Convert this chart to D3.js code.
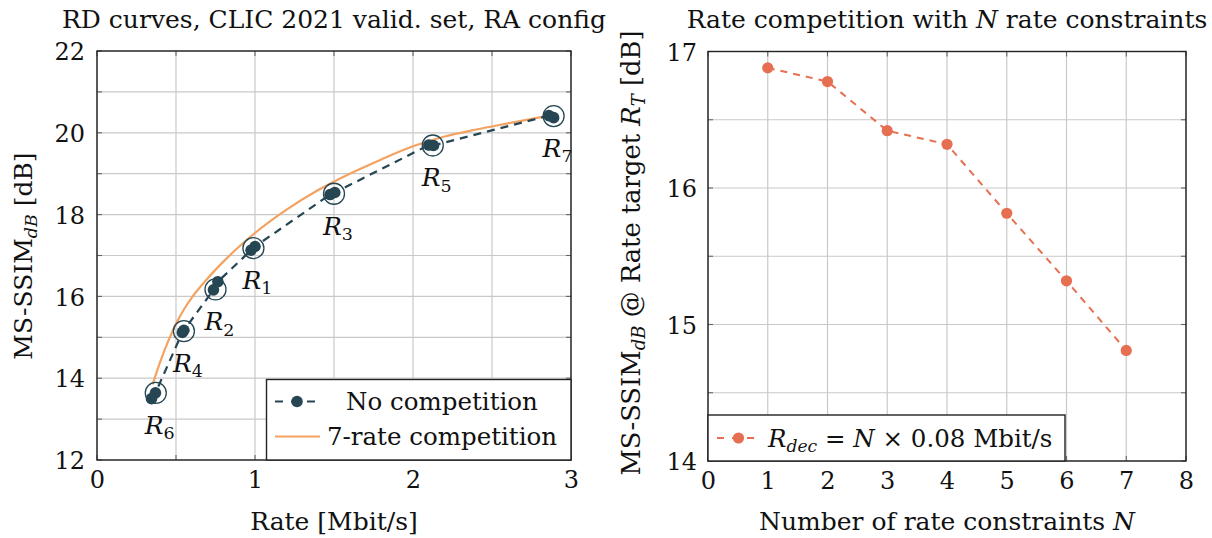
<!DOCTYPE html>
<html>
<head>
<meta charset="utf-8">
<script src="https://cdn.jsdelivr.net/npm/d3@7"></script>
<style>
  html, body { margin: 0; padding: 0; background: #fff; }
  svg { display: block; }
  text { font-family: "DejaVu Serif", "Liberation Serif", serif; fill: #111; }
</style>
</head>
<body>
<svg id="chart" width="1212" height="538"></svg>
<script>
// ---------------- DATA ----------------
// Left panel: RD curves
const noCompRate = [0.345, 0.37, 0.54, 0.55, 0.737, 0.765, 0.975, 1.0, 1.475, 1.505, 2.10, 2.13, 2.86, 2.89];
const noCompSSIM = [13.50, 13.64, 15.12, 15.17, 16.16, 16.36, 17.13, 17.22, 18.49, 18.54, 19.70, 19.69, 20.42, 20.37];

const compRate = [0.352, 0.40, 0.45, 0.50, 0.55, 0.60, 0.70, 0.80, 0.90, 1.00, 1.20, 1.40, 1.60, 1.80, 2.00, 2.20, 2.40, 2.60, 2.846];
const compSSIM = [13.85, 14.40, 14.90, 15.33, 15.68, 15.97, 16.44, 16.85, 17.22, 17.55, 18.12, 18.60, 19.00, 19.35, 19.67, 19.91, 20.08, 20.23, 20.41];

const targetNames = ["1", "2", "3", "4", "5", "6", "7"];
const targetRate = [0.99, 0.75, 1.50, 0.55, 2.125, 0.372, 2.89];
const targetSSIM = [17.18, 16.17, 18.51, 15.15, 19.69, 13.64, 20.41];

const leftXTicks = [0, 1, 2, 3];
const leftYTicks = [12, 14, 16, 18, 20, 22];

// Right panel: rate competition with N constraints
const nConstraints = [1, 2, 3, 4, 5, 6, 7];
const ssimAtTarget = [16.88, 16.78, 16.42, 16.32, 15.815, 15.32, 14.81];

const rightXTicks = [0, 1, 2, 3, 4, 5, 6, 7, 8];
const rightYTicks = [14, 15, 16, 17];

// ---------------- STYLE ----------------
const DARK = "#264653";
const ORANGE = "#f4a261";
const CORAL = "#e76f51";
const GRID = "#c9c9c9";
const TICK = "#666";
const FRAME = "#222";
const FS = 24;     // tick labels
const FL = 25;     // axis labels / titles
const FG = 24.5;   // legend

const svg = d3.select("#chart");

function frame(g, x, y, xGrid, yGrid) {
  const [x0, x1] = x.range();
  const [y0, y1] = y.range();
  g.append("g").selectAll("line").data(xGrid).join("line")
    .attr("x1", d => x(d)).attr("x2", d => x(d)).attr("y1", y0).attr("y2", y1)
    .attr("stroke", GRID).attr("stroke-width", 1.2);
  g.append("g").selectAll("line").data(yGrid).join("line")
    .attr("x1", x0).attr("x2", x1).attr("y1", d => y(d)).attr("y2", d => y(d))
    .attr("stroke", GRID).attr("stroke-width", 1.2);
  const tl = 5;
  const tk = g.append("g").attr("stroke", TICK).attr("stroke-width", 1.1);
  xGrid.forEach(d => {
    tk.append("line").attr("x1", x(d)).attr("x2", x(d)).attr("y1", y0).attr("y2", y0 - tl);
    tk.append("line").attr("x1", x(d)).attr("x2", x(d)).attr("y1", y1).attr("y2", y1 + tl);
  });
  yGrid.forEach(d => {
    tk.append("line").attr("x1", x0).attr("x2", x0 + tl).attr("y1", y(d)).attr("y2", y(d));
    tk.append("line").attr("x1", x1).attr("x2", x1 - tl).attr("y1", y(d)).attr("y2", y(d));
  });
}

function border(g, x, y) {
  const [x0, x1] = x.range();
  const [y0, y1] = y.range();
  g.append("rect").attr("x", x0).attr("y", y1).attr("width", x1 - x0).attr("height", y0 - y1)
    .attr("fill", "none").attr("stroke", FRAME).attr("stroke-width", 1.4);
}

function tickLabels(g, x, y, xt, yt, ypad) {
  const xa = g.append("g").attr("transform", `translate(0,${y.range()[0]})`)
    .call(d3.axisBottom(x).tickValues(xt).tickSize(0).tickPadding(10).tickFormat(d3.format("d")));
  const ya = g.append("g").attr("transform", `translate(${x.range()[0]},0)`)
    .call(d3.axisLeft(y).tickValues(yt).tickSize(0).tickPadding(ypad).tickFormat(d3.format("d")));
  [xa, ya].forEach(a => {
    a.select(".domain").remove();
    a.selectAll("text").attr("font-family", "DejaVu Serif").attr("font-size", FS).attr("fill", "#111");
  });
  xa.selectAll("text").attr("dy", "0.75em");
  ya.selectAll("text").attr("dy", "0.36em");
}

function addSub(t, base, sub, opts = {}) {
  const a = t.append("tspan").text(base);
  if (opts.baseItalic) a.attr("font-style", "italic");
  const s = t.append("tspan").text(sub).attr("font-size", "0.7em").attr("dy", "0.3em");
  if (opts.subItalic) s.attr("font-style", "italic");
  return s;
}

// ================= LEFT PANEL =================
const xL = d3.scaleLinear().domain([0, 3]).range([97, 571]);
const yL = d3.scaleLinear().domain([12, 22]).range([460, 51]);
const gL = svg.append("g");
frame(gL, xL, yL, d3.range(0, 3.01, 0.5), d3.range(12, 22.01, 1));

// orange 7-rate competition curve
const compPts = compRate.map((r, i) => [r, compSSIM[i]]);
gL.append("path").datum(compPts)
  .attr("d", d3.line().x(d => xL(d[0])).y(d => yL(d[1])).curve(d3.curveMonotoneX))
  .attr("fill", "none").attr("stroke", ORANGE).attr("stroke-width", 2.2);

// dark no-competition dashed line + markers
const noPts = noCompRate.map((r, i) => [r, noCompSSIM[i]]);
gL.append("path").datum(noPts)
  .attr("d", d3.line().x(d => xL(d[0])).y(d => yL(d[1])))
  .attr("fill", "none").attr("stroke", DARK).attr("stroke-width", 2.2).attr("stroke-dasharray", "8,6");
gL.append("g").selectAll("circle").data(noPts).join("circle")
  .attr("cx", d => xL(d[0])).attr("cy", d => yL(d[1])).attr("r", 5.8).attr("fill", DARK);

// target circles + labels
const tg = targetRate.map((r, i) => ({ r, s: targetSSIM[i], n: targetNames[i] }));
gL.append("g").selectAll("circle").data(tg).join("circle")
  .attr("cx", d => xL(d.r)).attr("cy", d => yL(d.s)).attr("r", 10.5)
  .attr("fill", "none").attr("stroke", DARK).attr("stroke-width", 1.3);
tg.forEach(d => {
  const t = gL.append("text").attr("x", xL(d.r) - 11).attr("y", yL(d.s) + 41).attr("font-size", 25);
  addSub(t, "R", d.n, { baseItalic: true });
});

border(gL, xL, yL);
tickLabels(gL, xL, yL, leftXTicks, leftYTicks, 12);

// legend (left)
const lgL = gL.append("g");
lgL.append("rect").attr("x", 266.5).attr("y", 379.5).attr("width", 571 - 266.5).attr("height", 460 - 379.5)
  .attr("fill", "#fff").attr("stroke", FRAME).attr("stroke-width", 1.4);
lgL.append("line").attr("x1", 275).attr("x2", 318).attr("y1", 401.5).attr("y2", 401.5)
  .attr("stroke", DARK).attr("stroke-width", 2.2).attr("stroke-dasharray", "8,8");
lgL.append("circle").attr("cx", 297).attr("cy", 401.5).attr("r", 5.8).attr("fill", DARK);
lgL.append("text").attr("x", 442).attr("y", 401.5).attr("dy", "0.35em").attr("text-anchor", "middle")
  .attr("font-size", FG).text("No competition");
lgL.append("line").attr("x1", 275).attr("x2", 320).attr("y1", 436.5).attr("y2", 436.5)
  .attr("stroke", ORANGE).attr("stroke-width", 2.2);
lgL.append("text").attr("x", 442).attr("y", 436.5).attr("dy", "0.35em").attr("text-anchor", "middle")
  .attr("font-size", FG).text("7-rate competition");

// titles and axis labels (left)
svg.append("text").attr("x", 334).attr("y", 28).attr("text-anchor", "middle").attr("font-size", FL)
  .text("RD curves, CLIC 2021 valid. set, RA config");
svg.append("text").attr("x", 334).attr("y", 530).attr("text-anchor", "middle").attr("font-size", FL)
  .text("Rate [Mbit/s]");
{
  const t = svg.append("text").attr("transform", "translate(32,256) rotate(-90)").attr("text-anchor", "middle")
    .attr("font-size", FL);
  t.append("tspan").text("MS-SSIM");
  t.append("tspan").text("dB").attr("font-style", "italic").attr("font-size", "0.7em").attr("dy", "0.3em");
  t.append("tspan").text(" [dB]").attr("dy", "-0.21em");
}

// ================= RIGHT PANEL =================
const xR = d3.scaleLinear().domain([0, 8]).range([708, 1186]);
const yR = d3.scaleLinear().domain([14, 17]).range([461, 51.5]);
const gR = svg.append("g");
frame(gR, xR, yR, d3.range(0, 8.01, 1), d3.range(14, 17.01, 0.5));

const rPts = nConstraints.map((n, i) => [n, ssimAtTarget[i]]);
gR.append("path").datum(rPts)
  .attr("d", d3.line().x(d => xR(d[0])).y(d => yR(d[1])))
  .attr("fill", "none").attr("stroke", CORAL).attr("stroke-width", 2).attr("stroke-dasharray", "7,6");
gR.append("g").selectAll("circle").data(rPts).join("circle")
  .attr("cx", d => xR(d[0])).attr("cy", d => yR(d[1])).attr("r", 5.6).attr("fill", CORAL);

border(gR, xR, yR);
tickLabels(gR, xR, yR, rightXTicks, rightYTicks, 11);

// legend (right)
const lgR = gR.append("g");
lgR.append("rect").attr("x", 708).attr("y", 415).attr("width", 1065 - 708).attr("height", 461 - 415)
  .attr("fill", "#fff").attr("stroke", FRAME).attr("stroke-width", 1.4);
lgR.append("line").attr("x1", 717).attr("x2", 758).attr("y1", 438).attr("y2", 438)
  .attr("stroke", CORAL).attr("stroke-width", 2).attr("stroke-dasharray", "7,8");
lgR.append("circle").attr("cx", 738.5).attr("cy", 438).attr("r", 5.6).attr("fill", CORAL);
{
  const t = lgR.append("text").attr("x", 768).attr("y", 438).attr("dy", "0.35em").attr("font-size", FG);
  t.append("tspan").text("R").attr("font-style", "italic");
  t.append("tspan").text("dec").attr("font-style", "italic").attr("font-size", "0.7em").attr("dy", "0.3em");
  t.append("tspan").text(" = ").attr("dy", "-0.21em");
  t.append("tspan").text("N").attr("font-style", "italic");
  t.append("tspan").text(" × 0.08 Mbit/s");
}

// titles and axis labels (right)
{
  const t = svg.append("text").attr("x", 947).attr("y", 28).attr("text-anchor", "middle").attr("font-size", FL);
  t.append("tspan").text("Rate competition with ");
  t.append("tspan").text("N").attr("font-style", "italic");
  t.append("tspan").text(" rate constraints");
}
{
  const t = svg.append("text").attr("x", 947).attr("y", 530).attr("text-anchor", "middle").attr("font-size", FL);
  t.append("tspan").text("Number of rate constraints ");
  t.append("tspan").text("N").attr("font-style", "italic");
}
{
  const t = svg.append("text").attr("transform", "translate(640,253) rotate(-90)").attr("text-anchor", "middle")
    .attr("font-size", 25.8);
  t.append("tspan").text("MS-SSIM");
  t.append("tspan").text("dB").attr("font-style", "italic").attr("font-size", "0.7em").attr("dy", "0.3em");
  t.append("tspan").text(" @ Rate target ").attr("dy", "-0.21em");
  t.append("tspan").text("R").attr("font-style", "italic");
  t.append("tspan").text("T").attr("font-style", "italic").attr("font-size", "0.7em").attr("dy", "0.3em");
  t.append("tspan").text(" [dB]").attr("dy", "-0.21em");
}
</script>
</body>
</html>
